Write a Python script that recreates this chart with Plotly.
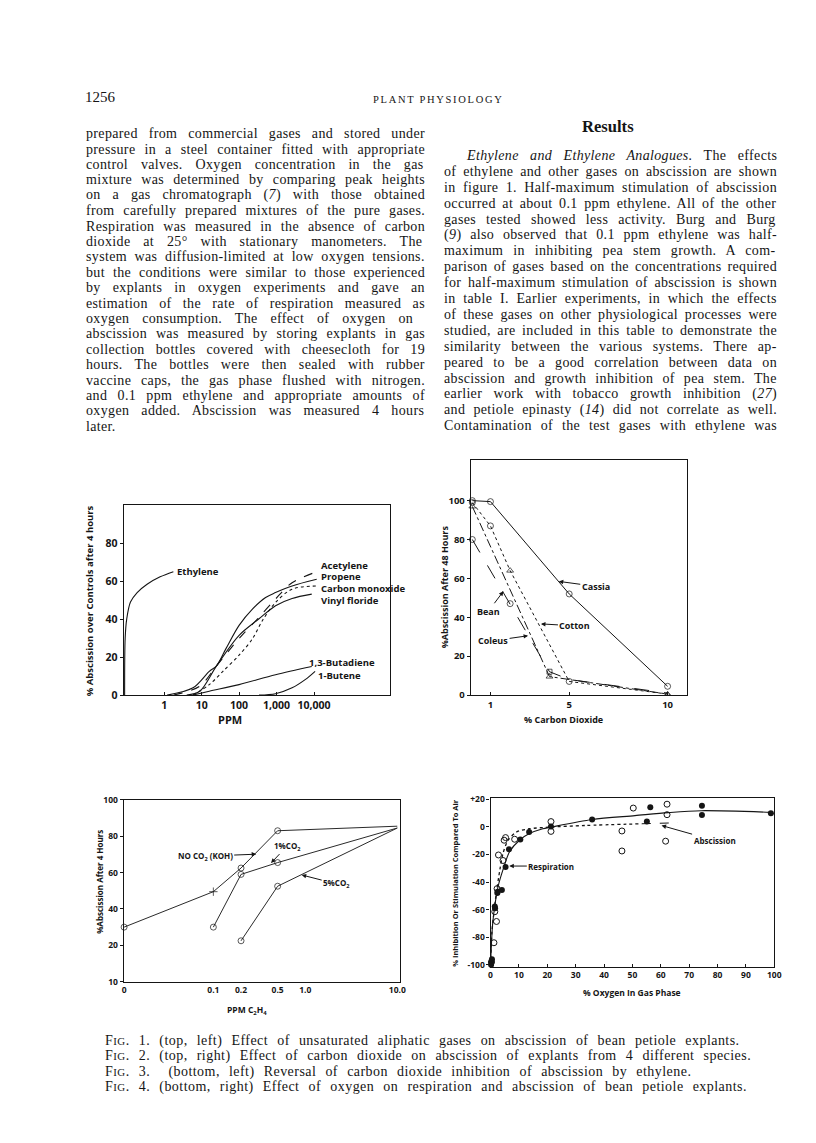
import re, glob, struct
import plotly.graph_objects as go

PAGE_W, PAGE_H = 816, 1143
BODY_MARGIN = 8                      # default browser body margin around the figure
W, H = PAGE_W - 2 * BODY_MARGIN, PAGE_H - 2 * BODY_MARGIN

# ------------------------------------------------------------------ DATA
# Fig. 1  (% abscission over controls vs ppm, log axis)
fig1_xticks = [1, 10, 100, 1000, 10000]
fig1_xticktext = ['1', '10', '100', '1,000', '10,000']
fig1_yticks = [0, 20, 40, 60, 80]
ethylene_ppm = [0.088, 0.091, 0.1, 0.126, 0.19, 0.35, 0.78, 1.76]
ethylene_pct = [0, 30, 40, 49, 54, 58.4, 62.3, 65]
propene_ppm = [1.2, 5.9, 16, 25, 45, 100, 230, 510, 940, 2600, 11800]
propene_pct = [0, 3.8, 12.5, 15.4, 24.6, 36.7, 45.4, 51.4, 54, 57.5, 61]
acetylene_ppm = [1.8, 8.9, 25, 100, 340, 940, 2600, 13100]
acetylene_pct = [0, 4.7, 15.4, 29.8, 41, 50.6, 59.2, 65.3]
co_ppm = [5.9, 16, 37, 100, 230, 420, 940, 2600, 11800]
co_pct = [0, 5.5, 12.5, 21, 29.8, 39.3, 48.8, 55.8, 57.5]
vinyl_ppm = [4, 8.9, 25, 100, 340, 940, 2600, 8700]
vinyl_pct = [0, 2, 15.4, 31.5, 40.2, 47.1, 50.9, 53.2]
butadiene_ppm = [5.9, 16, 100, 940, 8700]
butadiene_pct = [0, 2, 5.5, 10.7, 15]
butene_ppm = [340, 940, 2600, 5800, 10700]
butene_pct = [0, 0.7, 3.8, 8.1, 12.5]

# Fig. 2  (% abscission after 48 h vs % CO2)
fig2_xticks = [1, 5, 10]
fig2_yticks = [0, 20, 40, 60, 80, 100]
cassia_co2 = [0.08, 1, 5, 10]
cassia_abs = [100, 99.5, 52, 4.5]
cotton_co2 = [0.08, 1, 2, 5, 10]
cotton_abs = [99, 87, 64, 7, 0.5]
bean_co2 = [0.08, 2, 4, 5, 10]
bean_abs = [80, 47, 12, 8, 1]
coleus_co2 = [0.08, 4, 10]
coleus_abs = [97, 9.5, 0.5]

# Fig. 3  (% abscission after 4 h vs ppm C2H4)
fig3_xticks = [0, 0.1, 0.2, 0.5, 1.0, 10.0]
fig3_xticktext = ['0', '0.1', '0.2', '0.5', '1.0', '10.0']
fig3_yticks = [0, 20, 40, 60, 80, 100]
fig3_yticktext = ['10', '20', '40', '60', '80', '100']
noco2_ppm = [0, 0.1, 0.2, 0.5, 10]
noco2_abs = [30, 49.5, 62.5, 83, 85.5]
co2_1_ppm = [0.1, 0.2, 0.5, 10]
co2_1_abs = [30, 59, 65.5, 84.5]
co2_5_ppm = [0.2, 0.5, 10]
co2_5_abs = [22.5, 52.5, 84.5]

# Fig. 4  (% inhibition / stimulation vs % O2)
fig4_xticks = [0, 10, 20, 30, 40, 50, 60, 70, 80, 90, 100]
fig4_yticks = [-100, -80, -60, -40, -20, 0, 20]
fig4_yticktext = ['-100', '-80', '-60', '-40', '-20', '0', '+20']
resp_o2 = [0.2, 0.4, 0.5, 1.5, 1.6, 2.4, 2.5, 4.0, 5.3, 6.5, 10.5, 13.6, 21.3, 35.8, 55.1, 56.3, 74.5, 74.5, 98.8]
resp_pct = [-100, -98, -96, -57.7, -59, -48, -47, -45.8, -29.2, -16.3, -9.2, -3.8, 0.3, 5.3, 3.8, 14.1, 15.2, 8.6, 9.8]
absc_o2 = [0.3, 1.2, 1.5, 2.1, 2.3, 2.8, 4.4, 4.8, 5.3, 8.5, 21.3, 21.3, 46.3, 46.3, 50.3, 61.7, 62.2, 62.2]
absc_pct = [-98, -84, -61.5, -68.6, -44.8, -20.4, -24.4, -9.7, -7.8, -9, 3.8, -3.3, -3, -17.5, 13.6, -10.4, 16.4, 8.8]
resp_fit_o2 = [0, 0.7, 1.5, 2.7, 4.4, 6.7, 10.2, 13.7, 18.4, 21.3, 35.8, 50.9, 62.6, 74.2, 98.8]
resp_fit_pct = [-100, -71.4, -57.2, -42.9, -31, -18, -9.7, -4.9, -1.4, -0.2, 5.3, 8.1, 10.3, 11.7, 10.5]
absc_fit_o2 = [0, 0.5, 1.2, 1.9, 3.3, 4.4, 6.2, 9.1, 13.7, 21.3, 33.5, 53.3]
absc_fit_pct = [-100, -76, -62, -50, -31, -19.2, -9.7, -3.8, -1.4, -0.2, 1.0, 2.2]
absc_tail_o2 = [53.3, 66]
absc_tail_pct = [2.2, 2.9]

# Page text
header_page = '1256'
header_journal = 'PLANT PHYSIOLOGY'
results_title = 'Results'
left_lines = [
    "prepared from commercial gases and stored under",
    "pressure in a steel container fitted with appropriate",
    "control valves. Oxygen concentration in the gas",
    "mixture was determined by comparing peak heights",
    "on a gas chromatograph (<i>7</i>) with those obtained",
    "from carefully prepared mixtures of the pure gases.",
    "Respiration was measured in the absence of carbon",
    "dioxide at 25° with stationary manometers. The",
    "system was diffusion-limited at low oxygen tensions.",
    "but the conditions were similar to those experienced",
    "by explants in oxygen experiments and gave an",
    "estimation of the rate of respiration measured as",
    "oxygen consumption. The effect of oxygen on",
    "abscission was measured by storing explants in gas",
    "collection bottles covered with cheesecloth for 19",
    "hours. The bottles were then sealed with rubber",
    "vaccine caps, the gas phase flushed with nitrogen.",
    "and 0.1 ppm ethylene and appropriate amounts of",
    "oxygen added. Abscission was measured 4 hours",
    "later.",
]
right_lines = [
    "<i>Ethylene and Ethylene Analogues.</i> The effects",
    "of ethylene and other gases on abscission are shown",
    "in figure 1. Half-maximum stimulation of abscission",
    "occurred at about 0.1 ppm ethylene. All of the other",
    "gases tested showed less activity. Burg and Burg",
    "(<i>9</i>) also observed that 0.1 ppm ethylene was half-",
    "maximum in inhibiting pea stem growth. A com-",
    "parison of gases based on the concentrations required",
    "for half-maximum stimulation of abscission is shown",
    "in table I. Earlier experiments, in which the effects",
    "of these gases on other physiological processes were",
    "studied, are included in this table to demonstrate the",
    "similarity between the various systems. There ap-",
    "peared to be a good correlation between data on",
    "abscission and growth inhibition of pea stem. The",
    "earlier work with tobacco growth inhibition (<i>27</i>)",
    "and petiole epinasty (<i>14</i>) did not correlate as well.",
    "Contamination of the test gases with ethylene was",
]
captions = [
    ("1.", "(top, left) Effect of unsaturated aliphatic gases on abscission of bean petiole explants."),
    ("2.", "(top, right) Effect of carbon dioxide on abscission of explants from 4 different species."),
    ("3.", " (bottom, left) Reversal of carbon dioxide inhibition of abscission by ethylene."),
    ("4.", "(bottom, right) Effect of oxygen on respiration and abscission of bean petiole explants."),
]

# ------------------------------------------------------------------ font metrics (for justification)
def load_width_fn(fname):
    paths = []
    for pat in ['/usr/share/fonts/**/' + fname, '/usr/local/share/fonts/**/' + fname]:
        paths += glob.glob(pat, recursive=True)
    if not paths:
        return None
    try:
        data = open(paths[0], 'rb').read()
        nt = struct.unpack('>H', data[4:6])[0]
        tables = {}
        for i in range(nt):
            tag, cs, off, ln = struct.unpack('>4sIII', data[12 + 16 * i:28 + 16 * i])
            tables[tag.decode('latin1')] = off
        hd = tables['head']
        upem = struct.unpack('>H', data[hd + 18:hd + 20])[0]
        hh = tables['hhea']
        nhm = struct.unpack('>H', data[hh + 34:hh + 36])[0]
        hm = tables['hmtx']
        adv = [struct.unpack('>H', data[hm + 4 * i:hm + 4 * i + 2])[0] for i in range(nhm)]
        cm = tables['cmap']
        n = struct.unpack('>H', data[cm + 2:cm + 4])[0]
        sub = None
        for i in range(n):
            pid, eid, off = struct.unpack('>HHI', data[cm + 4 + 8 * i:cm + 12 + 8 * i])
            fmt = struct.unpack('>H', data[cm + off:cm + off + 2])[0]
            if pid == 3 and eid == 1 and fmt == 4:
                sub = cm + off
        if sub is None:
            return None
        segx2 = struct.unpack('>H', data[sub + 6:sub + 8])[0]
        seg = segx2 // 2
        ends = struct.unpack('>%dH' % seg, data[sub + 14:sub + 14 + segx2])
        so = sub + 16 + segx2
        starts = struct.unpack('>%dH' % seg, data[so:so + segx2])
        do = so + segx2
        deltas = struct.unpack('>%dh' % seg, data[do:do + segx2])
        ro = do + segx2
        ros = struct.unpack('>%dH' % seg, data[ro:ro + segx2])
        cache = {}

        def gid(c):
            for i in range(seg):
                if ends[i] >= c:
                    if starts[i] > c:
                        return 0
                    if ros[i] == 0:
                        return (c + deltas[i]) & 0xFFFF
                    addr = ro + 2 * i + ros[i] + 2 * (c - starts[i])
                    g = struct.unpack('>H', data[addr:addr + 2])[0]
                    return (g + deltas[i]) & 0xFFFF if g else 0
            return 0

        def width(s):
            w = 0
            for ch in s:
                if ch not in cache:
                    g = gid(ord(ch))
                    cache[ch] = adv[min(g, nhm - 1)] / upem
                w += cache[ch]
            return w
        return width
    except Exception:
        return None


wR = load_width_fn('LiberationSerif-Regular.ttf') or (lambda s: 0.45 * len(s))
wI = load_width_fn('LiberationSerif-Italic.ttf') or wR
wB = load_width_fn('LiberationSerif-Bold.ttf') or (lambda s: 0.5 * len(s))


def text_w(s, size):
    w, ital = 0.0, False
    for part in re.split(r'(</?i>)', s):
        if part == '<i>':
            ital = True
        elif part == '</i>':
            ital = False
        else:
            w += (wI if ital else wR)(part)
    return w * size


def plain(s):
    return re.sub(r'<[^>]+>', '', s)


# ------------------------------------------------------------------ helpers (page px -> paper)
def px(X):
    return (X - BODY_MARGIN) / W


def py(Y):
    return 1 - (Y - BODY_MARGIN) / H


INK = '#151515'
SERIF = 'Liberation Serif'
SANS = 'Open Sans'
ann = []


def text_at(text, X, Y, size, family=SERIF, xanchor='left', angle=0, bold=False):
    t = '<b>%s</b>' % text if bold else text
    ann.append(dict(text=t, x=px(X), y=py(Y), xref='paper', yref='paper',
                    xanchor=xanchor, yanchor='middle', showarrow=False, textangle=angle,
                    font=dict(family=family, size=size, color=INK)))


def arrow_label(text, tx, ty, hx, hy, size=9.5):
    ann.append(dict(text='<b>%s</b>' % text, x=px(hx), y=py(hy), xref='paper', yref='paper',
                    ax=tx - hx, ay=ty - hy, axref='pixel', ayref='pixel',
                    showarrow=True, arrowhead=2, arrowsize=0.9, arrowwidth=1,
                    arrowcolor=INK, standoff=0,
                    font=dict(family=SANS, size=size, color=INK)))


# ------------------------------------------------------------------ page text
text_at(header_page, 82, 92, 15)
hj = 10.5
ls = (129 - wR(header_journal) * hj) / (len(header_journal) - 1)
text_at("<span style='letter-spacing:%.2fpx'>%s</span>" % (ls, header_journal), 373, 95, hj)
rs = 51.6 / wB(results_title)
text_at(results_title, 612.5, 122, rs, xanchor='center', bold=True)

BODY = 14.0
BODY_LS = 0.35


def justify_block(lines, x0, x1, y0, dy, indent_first=0, last_ragged=True):
    for i, ln in enumerate(lines):
        xs = x0 + (indent_first if i == 0 else 0)
        target = x1 - xs
        n_chars = len(plain(ln))
        nat = text_w(ln, BODY) + BODY_LS * n_chars
        nsp = plain(ln).count(' ')
        is_last = (i == len(lines) - 1) and last_ragged
        ws = 0.0
        if nsp > 0 and not is_last:
            ws = max(-2.0, min((target - nat) / nsp, 9.0))
        t = "<span style='letter-spacing:%.2fpx;word-spacing:%.2fpx'>%s</span>" % (BODY_LS, ws, ln)
        text_at(t, xs, y0 + i * dy, BODY)


justify_block(left_lines, 83, 422, 129, 15.58)
justify_block(right_lines, 445, 778, 151, 16.1, indent_first=22, last_ragged=False)

CAP_Y = [1047, 1062.5, 1078, 1093.5]
CAP = 14.0
CAP_LS = 0.45
cap_line2 = 'Fig. ' + captions[1][0] + ' ' + captions[1][1]
cap_nat = wR(cap_line2) * CAP + CAP_LS * len(cap_line2)
cap_ws = max(0.0, min(6.0, (646 - cap_nat) / cap_line2.count(' ')))
for (num, body), yy in zip(captions, CAP_Y):
    t = ("<span style='letter-spacing:%.2fpx;word-spacing:%.2fpx'>F<span style='font-size:%.1fpx'>IG</span>. %s %s</span>"
         % (CAP_LS, cap_ws, CAP * 0.78, num, body))
    text_at(t, 102, yy, CAP)

# ------------------------------------------------------------------ figure
fig = go.Figure()

# Fig 1
for xs, ys, dash in [(ethylene_ppm, ethylene_pct, 'solid'), (propene_ppm, propene_pct, 'solid'),
                     (acetylene_ppm, acetylene_pct, 'dash'), (co_ppm, co_pct, 'dot'),
                     (vinyl_ppm, vinyl_pct, 'solid'), (butadiene_ppm, butadiene_pct, 'solid'),
                     (butene_ppm, butene_pct, 'solid')]:
    fig.add_trace(go.Scatter(x=xs, y=ys, mode='lines', xaxis='x', yaxis='y',
                             line=dict(color=INK, width=1.1, dash=dash, shape='spline', smoothing=0.9),
                             showlegend=False, hoverinfo='skip'))

# Fig 2
fig2_series = [
    (cassia_co2, cassia_abs, 'solid', ['circle-open'] * 4, [6] * 4),
    (cotton_co2, cotton_abs, 'dot', ['circle-open', 'circle-open', 'triangle-up-open', 'circle-open', 'triangle-up-open'], [6, 6, 6, 6, 5]),
    (bean_co2, bean_abs, 'longdash', ['circle-open', 'circle-open', 'square-open', 'circle-open', 'circle-open'], [6, 6, 5, 0, 0]),
    (coleus_co2, coleus_abs, 'dashdot', ['triangle-up-open'] * 3, [6, 6, 5]),
]
for xs, ys, dash, sy, sz in fig2_series:
    fig.add_trace(go.Scatter(x=xs, y=ys, mode='lines+markers', xaxis='x2', yaxis='y2',
                             line=dict(color=INK, width=1, dash=dash),
                             marker=dict(symbol=sy, size=sz, color=INK, line=dict(width=1, color=INK)),
                             cliponaxis=False, showlegend=False, hoverinfo='skip'))

# Fig 3 (the "0" concentration is drawn one decade left of 0.1 on the log axis)
ZERO_POS = 0.0107


def f3x(vals):
    return [v if v > 0 else ZERO_POS for v in vals]

fig3_series = [
    (noco2_ppm, noco2_abs, ['circle-open', 'cross-thin-open', 'circle-open', 'circle-open', 'circle-open'], [6, 6, 6, 6, 0]),
    (co2_1_ppm, co2_1_abs, ['circle-open'] * 4, [6, 6, 6, 0]),
    (co2_5_ppm, co2_5_abs, ['circle-open'] * 3, [6, 6, 0]),
]
for xs, ys, sy, sz in fig3_series:
    fig.add_trace(go.Scatter(x=f3x(xs), y=ys, mode='lines+markers', xaxis='x3', yaxis='y3',
                             line=dict(color='#2a2a2a', width=1),
                             marker=dict(symbol=sy, size=sz, color=INK, line=dict(width=1, color=INK)),
                             cliponaxis=False, showlegend=False, hoverinfo='skip'))

# Fig 4
fig.add_trace(go.Scatter(x=resp_fit_o2, y=resp_fit_pct, mode='lines', xaxis='x4', yaxis='y4',
                         line=dict(color=INK, width=1.1, shape='spline', smoothing=0.8),
                         showlegend=False, hoverinfo='skip'))
fig.add_trace(go.Scatter(x=absc_fit_o2, y=absc_fit_pct, mode='lines', xaxis='x4', yaxis='y4',
                         line=dict(color=INK, width=1.3, dash='dot', shape='spline', smoothing=0.8),
                         showlegend=False, hoverinfo='skip'))
fig.add_trace(go.Scatter(x=absc_tail_o2, y=absc_tail_pct, mode='lines', xaxis='x4', yaxis='y4',
                         line=dict(color=INK, width=1.1, dash='dash'),
                         showlegend=False, hoverinfo='skip'))
fig.add_trace(go.Scatter(x=resp_o2, y=resp_pct, mode='markers', xaxis='x4', yaxis='y4',
                         marker=dict(symbol='circle', size=6, color=INK),
                         cliponaxis=False, showlegend=False, hoverinfo='skip'))
fig.add_trace(go.Scatter(x=absc_o2, y=absc_pct, mode='markers', xaxis='x4', yaxis='y4',
                         marker=dict(symbol='circle-open', size=6, color=INK, line=dict(width=1)),
                         cliponaxis=False, showlegend=False, hoverinfo='skip'))


def axis(domain, rng, anchor, ticks='outside', ticklen=3, size=10, **kw):
    d = dict(domain=domain, range=rng, anchor=anchor, showline=True, mirror=True,
             linecolor=INK, linewidth=1.1, showgrid=False, zeroline=False,
             ticks=ticks, ticklen=ticklen, tickcolor=INK, tickwidth=1,
             tickfont=dict(family=SANS, size=size, color=INK, weight='bold'))
    d.update(kw)
    return d


fig.update_layout(
    width=W, height=H, margin=dict(l=0, r=0, t=0, b=0),
    paper_bgcolor='white', plot_bgcolor='rgba(0,0,0,0)', showlegend=False,
    xaxis=axis([px(123), px(392)], [-1.08, 6.02], 'y', type='log', tickvals=fig1_xticks,
               ticktext=fig1_xticktext, size=10.5, ticks='inside', ticklen=3),
    yaxis=axis([py(697), py(505)], [0, 100], 'x', tickvals=fig1_yticks, size=10.5),
    xaxis2=axis([px(474), px(693)], [0, 11], 'y2', tickvals=fig2_xticks, size=9.5, ticks='inside'),
    yaxis2=axis([py(697), py(459)], [0, 121], 'x2', tickvals=fig2_yticks, size=9.5),
    xaxis3=axis([px(123), px(402)], [-1.975, 1.025], 'y3', type='log',
                tickvals=f3x(fig3_xticks), ticktext=fig3_xticktext, size=8.5, ticks=''),
    yaxis3=axis([py(987), py(803)], [0, 100], 'x3', tickvals=fig3_yticks,
                ticktext=fig3_yticktext, size=8.5),
    xaxis4=axis([px(494), px(781)], [0, 100], 'y4', tickvals=fig4_xticks, size=8.5, ticks='inside'),
    yaxis4=axis([py(972), py(801)], [-101.5, 21], 'x4', tickvals=fig4_yticks,
                ticktext=fig4_yticktext, size=8.5),
)

# axis titles
text_at('PPM', 230, 722, 11, family=SANS, xanchor='center', bold=True)
text_at('% Abscission over Controls after 4 hours', 88, 602, 9.5, family=SANS, xanchor='center', angle=-90, bold=True)
text_at('% Carbon Dioxide', 568, 722, 9, family=SANS, xanchor='center', bold=True)
text_at('%Abscission After 48 Hours', 447, 588, 9, family=SANS, xanchor='center', angle=-90, bold=True)
text_at('PPM C<sub>2</sub>H<sub>4</sub>', 248, 1016, 8.5, family=SANS, xanchor='center', bold=True)
text_at('%Abscission After 4 Hours', 99, 886, 8, family=SANS, xanchor='center', angle=-90, bold=True)
text_at('% Oxygen In Gas Phase', 637, 998, 8.5, family=SANS, xanchor='center', bold=True)
text_at('% Inhibition Or Stimulation Compared To Air', 458, 887, 7.5, family=SANS, xanchor='center', angle=-90, bold=True)

# curve labels Fig 1
text_at('Ethylene', 175, 572, 9.5, family=SANS, bold=True)
text_at('Acetylene', 321, 565.5, 9.5, family=SANS, bold=True)
text_at('Propene', 321, 577, 9.5, family=SANS, bold=True)
text_at('Carbon monoxide', 321, 589, 9.5, family=SANS, bold=True)
text_at('Vinyl floride', 321, 601, 9.5, family=SANS, bold=True)
text_at('1,3-Butadiene', 308, 664, 9.5, family=SANS, bold=True)
text_at('1-Butene', 317, 677, 9.5, family=SANS, bold=True)

# Fig 2 labels
arrow_label('Cassia', 600, 587, 563, 582, 9)
arrow_label('Bean', 492, 612, 507, 592, 9)
arrow_label('Cotton', 579, 627, 545, 625, 9)
arrow_label('Coleus', 497, 642, 532, 637, 9)

# Fig 3 labels
arrow_label('NO CO<sub>2</sub> (KOH)', 206, 860, 257, 858, 8)
arrow_label('1%CO<sub>2</sub>', 288, 850, 272, 867, 8)
arrow_label('5%CO<sub>2</sub>', 338, 888, 303, 879, 8)

# Fig 4 labels
arrow_label('Respiration', 555, 870, 513, 870, 8)
arrow_label('Abscission', 720, 844, 667, 829, 8)

fig.update_layout(annotations=ann)
fig.write_html('out.html', config={'displayModeBar': False})
